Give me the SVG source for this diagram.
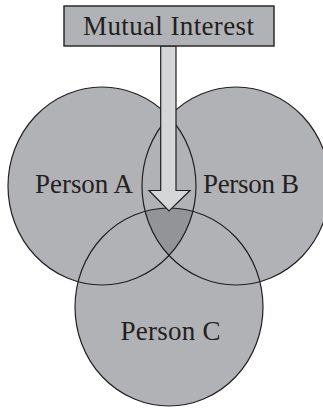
<svg xmlns="http://www.w3.org/2000/svg" width="323" height="408" viewBox="0 0 323 408">
<style>
.fill{fill:#b1b2b6;stroke:none}
.ring{fill:none;stroke:#231f20;stroke-width:1.2}
.lbl{font-family:"Liberation Serif","Times New Roman",serif;font-size:27px;fill:#231f20;text-anchor:middle}
</style>
<defs>
<clipPath id="clipA"><ellipse cx="102" cy="186" rx="94" ry="99"/></clipPath>
<clipPath id="clipB"><ellipse cx="236" cy="186" rx="94" ry="99"/></clipPath>
</defs>
<rect width="323" height="408" fill="#ffffff"/>
<g id="fills">
<ellipse class="fill" cx="102" cy="186" rx="94" ry="99"/>
<ellipse class="fill" cx="236" cy="186" rx="94" ry="99"/>
<ellipse class="fill" cx="169" cy="307" rx="94" ry="99"/>
<g clip-path="url(#clipA)"><ellipse cx="169" cy="307" rx="94" ry="99" fill="#939498" clip-path="url(#clipB)"/></g>
</g>
<g id="personA">
<ellipse class="ring" cx="102" cy="186" rx="94" ry="99"/>
<text class="lbl" x="84" y="193" textLength="98">Person A</text>
</g>
<g id="personB">
<ellipse class="ring" cx="236" cy="186" rx="94" ry="99"/>
<text class="lbl" x="251" y="193" textLength="96">Person B</text>
</g>
<g id="personC">
<ellipse class="ring" cx="169" cy="307" rx="94" ry="99"/>
<text class="lbl" x="170.5" y="340" textLength="100">Person C</text>
</g>
<g id="connectors">
<polygon points="160.7,46 176,46 176,190.5 190,190.5 169,211 149,190.5 160.7,190.5" fill="#d5d6d8" stroke="#231f20" stroke-width="1.2" stroke-linejoin="miter"/>
</g>
<g id="mutualInterest">
<rect x="64" y="6" width="210" height="40" fill="#b1b2b6" stroke="#231f20" stroke-width="1.4"/>
<text class="lbl" x="168.5" y="35" textLength="171">Mutual Interest</text>
</g>
</svg>
